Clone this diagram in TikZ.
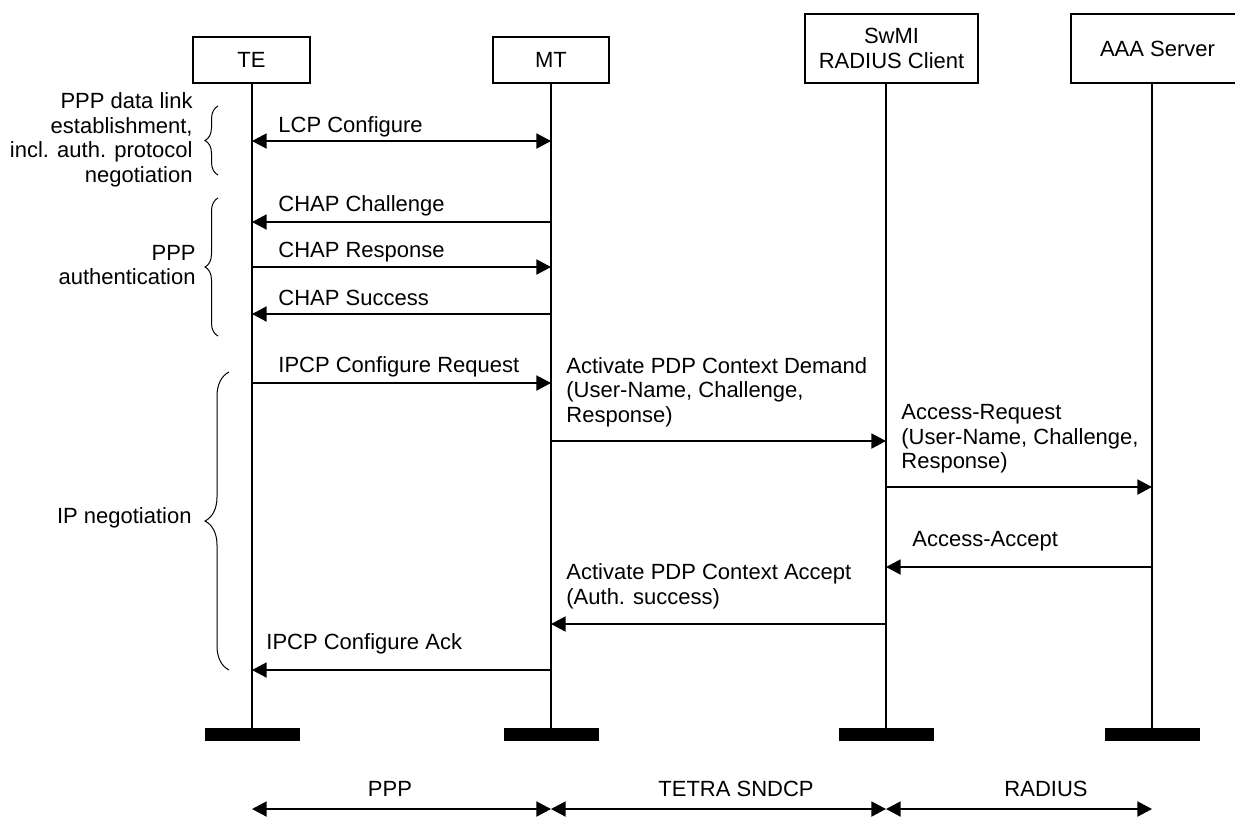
\documentclass[tikz,border=0pt]{standalone}
\usepackage{fontspec}
\setmainfont{Liberation Sans}
\usetikzlibrary{arrows.meta,decorations.pathreplacing}

\begin{document}
\begin{tikzpicture}[x=0.5pt,y=-0.5pt,
  every node/.style={font=\fontsize{11}{12.3}\selectfont,inner sep=0pt},
  ent/.style={draw,line width=0.7pt,minimum height=23pt,align=center},
  bar/.style={fill=black,minimum width=47.5pt,minimum height=6.5pt},
  life/.style={line width=0.6pt},
  msg/.style={-{Triangle[length=7.3pt,width=7.5pt]},line width=0.9pt},
  both/.style={{Triangle[length=7.3pt,width=7.5pt]}-{Triangle[length=7.3pt,width=7.5pt]},line width=0.9pt},
  lbl/.style={anchor=west,align=left},
  note/.style={anchor=east,align=right},
  brace/.style={decorate,decoration={brace,amplitude=#1},line width=0.5pt}
]
\useasboundingbox (0,0) rectangle (1235,816);

% entities
\node[ent,minimum width=58.5pt] (te) at (251.5,60) {TE};
\node[ent,minimum width=58pt] (mt) at (551,60) {MT};
\node[ent,minimum width=86.5pt,minimum height=34.5pt] (swmi) at (891.5,48.5) {SwMI\\RADIUS Client};
\node[ent,minimum width=86.5pt,minimum height=34.5pt] (aaa) at (1157.5,48.5) {AAA Server};

% end bars and lifelines
\node[bar] (tebar) at (252,734.5) {};
\node[bar] (mtbar) at (551,734.5) {};
\node[bar] (swmibar) at (886,734.5) {};
\node[bar] (aaabar) at (1152,734.5) {};
\draw[life] (tebar.center) -- (tebar |- te.south);
\draw[life] (mtbar.center) -- (mtbar |- mt.south);
\draw[life] (swmibar.center) -- (swmibar |- swmi.south);
\draw[life] (aaabar.center) -- (aaabar |- aaa.south);

% PPP link setup
\draw[both] (tebar |- 0,141) -- (mtbar |- 0,141);
\node[lbl] (lcp) at (278,127) {LCP Configure};
\draw[msg] (mtbar |- 0,222) -- (tebar |- 0,222);
\node[lbl] (chal) at (278,206) {CHAP Challenge};
\draw[msg] (tebar |- 0,267) -- (mtbar |- 0,267);
\node[lbl] (resp) at (278,252) {CHAP Response};
\draw[msg] (mtbar |- 0,314) -- (tebar |- 0,314);
\node[lbl] (succ) at (278,298) {CHAP Success};

% IP negotiation
\draw[msg] (tebar |- 0,383) -- (mtbar |- 0,383);
\node[lbl] (ipcpreq) at (278,367) {IPCP Configure Request};
\draw[msg] (mtbar |- 0,441) -- (swmibar |- 0,441);
\node[lbl] (demand) at (566,392) {Activate PDP Context Demand\\(User-Name, Challenge,\\Response)};
\draw[msg] (swmibar |- 0,487) -- (aaabar |- 0,487);
\node[lbl] (accreq) at (901,439) {Access-Request\\(User-Name, Challenge,\\Response)};
\draw[msg] (aaabar |- 0,567) -- (swmibar |- 0,567);
\node[lbl] (accacc) at (912,541) {Access-Accept};
\draw[msg] (swmibar |- 0,624) -- (mtbar |- 0,624);
\node[lbl] (pdpacc) at (566,586) {Activate PDP Context Accept\\(Auth. success)};
\draw[msg] (mtbar |- 0,670) -- (tebar |- 0,670);
\node[lbl] (ipcpack) at (266,644) {IPCP Configure Ack};

% phase braces
\draw[brace=6.5pt] (218,175) -- (218,106);
\node[note] (dlink) at (193,140) {PPP data link\\establishment,\\incl. auth. protocol\\negotiation};
\draw[brace=6.5pt] (218,336) -- (218,198);
\node[note] (auth) at (196,265) {PPP\\authentication};
\draw[brace=12pt] (229,670) -- (229,372);
\node[note] (ipneg) at (192,518) {IP negotiation};

% protocol layers
\draw[both] (tebar |- 0,809) -- (mtbar |- 0,809);
\draw[both] (mtbar |- 0,809) -- (swmibar |- 0,809);
\draw[both] (swmibar |- 0,809) -- (aaabar |- 0,809);
\node (ppp) at (390,789) {PPP};
\node (sndcp) at (736,789) {TETRA SNDCP};
\node (radius) at (1046,789) {RADIUS};
\end{tikzpicture}
\end{document}
